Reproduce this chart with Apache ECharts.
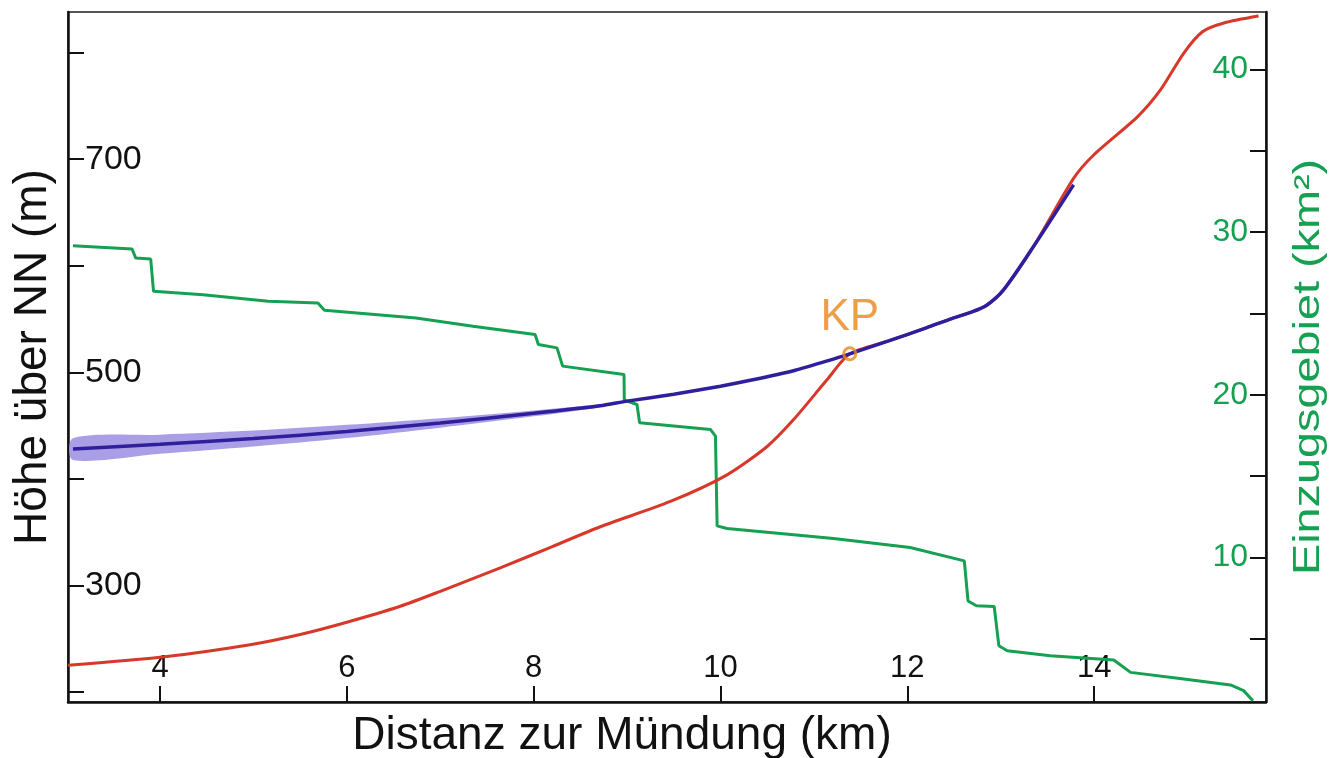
<!DOCTYPE html>
<html>
<head>
<meta charset="utf-8">
<script src="https://cdn.jsdelivr.net/npm/echarts@6/dist/echarts.min.js"></script>
<style>
html,body{margin:0;padding:0;background:#fff;}
#chart{width:1344px;height:758px;}
</style>
</head>
<body>
<div id="chart"></div>
<script>
// ---- data ----
const xTicks = [4, 6, 8, 10, 12, 14];
const leftTicks = [200, 300, 400, 500, 600, 700, 800];
const leftLabels = [300, 500, 700];
const rightTicks = [5, 10, 15, 20, 25, 30, 35, 40];
const rightLabels = [10, 20, 30, 40];

// longitudinal profile (red), km / m
const redKm = [3.0145, 4.0, 4.964, 5.5, 6.0, 6.571, 7.0, 7.642, 8.2, 8.713, 9.463, 10.07, 10.499, 10.78, 11.14, 11.384, 11.8, 12.21, 12.46, 12.7, 12.85, 13.03, 13.35, 13.78, 13.995, 14.466, 14.71, 14.96, 15.16, 15.39, 15.76];
const redM  = [225, 232.5, 244.4, 254, 265.5, 280.5, 294.5, 316.5, 336.5, 355.1, 378.8, 403.8, 430.4, 455.4, 493.0, 517.4, 529.5, 542, 550, 557, 563, 577.4, 618, 682, 704, 740, 765, 799.7, 819.7, 827.9, 834.4];

// fitted / reconstructed profile (blue), km / m
const blueKm = [3.068, 4, 5, 6, 7, 8, 8.71, 9.0, 9.5, 10.0, 10.32, 10.8, 11.18, 11.384, 11.8, 12.21, 12.46, 12.7, 12.85, 13.03, 13.35, 13.78];
const blueM  = [428, 432.5, 437.8, 444.5, 452.5, 461.5, 468.6, 473, 479.5, 487, 492.5, 502, 511.7, 517.4, 529.5, 542, 550, 557, 563, 577.4, 618, 676];

// uncertainty band around blue line (m)
const bandKm   = [3.068, 4, 5, 6, 7, 8, 8.7, 9.2];
const bandLow  = [417.8, 423.5, 430.3, 438.3, 448.0, 458.7, 467.1, 475.5];
const bandHigh = [438.2, 441.5, 445.3, 450.7, 457.0, 464.3, 470.1, 475.5];

// catchment area (green), km / km²
const greenKm = [3.068, 3.70, 3.74, 3.90, 3.93, 4.46, 5.16, 5.69, 5.76, 6.74, 7.35, 8.015, 8.05, 8.25, 8.31, 8.967, 8.97, 9.106, 9.134, 9.892, 9.946, 9.964, 10.07, 11.21, 12.03, 12.61, 12.65, 12.74, 12.93, 12.98, 13.07, 13.53, 14.21, 14.39, 14.96, 15.46, 15.60, 15.70];
const greenA  = [29.16, 28.96, 28.4, 28.34, 26.36, 26.15, 25.74, 25.64, 25.19, 24.72, 24.21, 23.70, 23.09, 22.88, 21.76, 21.25, 19.67, 19.40, 18.28, 17.87, 17.46, 11.94, 11.78, 11.17, 10.61, 9.79, 7.33, 7.03, 6.99, 4.58, 4.27, 3.96, 3.70, 2.94, 2.53, 2.17, 1.82, 1.20];

// knickpoint
const kpKm = [11.384];
const kpM = [517.4];
const kpLabel = 'KP';

const xTitle = 'Distanz zur Mündung (km)';
const leftTitle = 'Höhe über NN (m)';
const rightTitle = 'Einzugsgebiet (km²)';

// ---- chart ----
const FONT = '"Liberation Sans", Arial, sans-serif';
const GREEN = '#15a052';
const ORANGE = '#e8861a';
const zip = (a, b) => a.map((v, i) => [v, b[i]]);

const chart = echarts.init(document.getElementById('chart'), null, {renderer: 'canvas'});

const option = {
  animation: false,
  backgroundColor: '#fff',
  grid: {
    left: 68, right: 78, top: 12, bottom: 56,
    show: true, borderColor: '#555', borderWidth: 2,
    containLabel: false, outerBoundsMode: 'none'
  },
  xAxis: {
    type: 'value', min: 3.0145, max: 15.84,
    axisLine: {show: true, lineStyle: {color: '#111', width: 2.5}},
    axisTick: {show: true, inside: true, length: 16, lineStyle: {color: '#111', width: 2}, customValues: xTicks},
    axisLabel: {show: true, inside: true, margin: 18, fontSize: 31, color: '#111', fontFamily: FONT, customValues: xTicks},
    splitLine: {show: false},
    name: xTitle, nameLocation: 'middle', nameGap: 11, nameMoveOverlap: false,
    nameTextStyle: {fontSize: 46, color: '#111', fontFamily: FONT, padding: [0, 90, 0, 0], verticalAlign: 'top'}
  },
  yAxis: [{
    type: 'value', position: 'left', min: 190.6, max: 838.2,
    axisLine: {show: true, lineStyle: {color: '#111', width: 2.5}},
    axisTick: {show: true, inside: true, length: 16, lineStyle: {color: '#111', width: 2}, customValues: leftTicks},
    axisLabel: {show: true, inside: true, margin: 17, fontSize: 34, color: '#111', fontFamily: FONT, customValues: leftLabels},
    splitLine: {show: false},
    name: leftTitle, nameLocation: 'middle', nameGap: 12, nameMoveOverlap: false,
    nameTextStyle: {fontSize: 46, color: '#111', fontFamily: FONT}
  }, {
    type: 'value', position: 'right', min: 1.12, max: 43.52,
    axisLine: {show: true, lineStyle: {color: '#111', width: 2.5}},
    axisTick: {show: true, inside: true, length: 16, lineStyle: {color: '#111', width: 2}, customValues: rightTicks},
    axisLabel: {show: true, inside: true, margin: 18, fontSize: 32, color: GREEN, fontFamily: FONT, customValues: rightLabels},
    splitLine: {show: false}
  }],
  graphic: [{
    type: 'text',
    x: 1309, y: 367,
    rotation: Math.PI / 2,
    scaleX: 1.3, scaleY: 1,
    style: {
      text: rightTitle, fontSize: 36, fontFamily: FONT, fill: GREEN,
      align: 'center', verticalAlign: 'middle', textAlign: 'center', textVerticalAlign: 'middle'
    }
  }],
  series: [{
    type: 'custom',
    yAxisIndex: 0,
    z: 1,
    data: bandKm.map((k, i) => [k, bandLow[i], bandHigh[i]]),
    renderItem: function (params, api) {
      if (params.dataIndex !== 0) return null;
      const pts = [];
      for (let i = 0; i < bandKm.length; i++) pts.push(api.coord([bandKm[i], bandHigh[i]]));
      for (let i = bandKm.length - 1; i >= 0; i--) pts.push(api.coord([bandKm[i], bandLow[i]]));
      return {type: 'polygon', shape: {points: pts, smooth: 0.3}, style: {fill: '#a194e3', opacity: 0.9}};
    }
  }, {
    type: 'line', name: 'Einzugsgebiet', yAxisIndex: 1, z: 3,
    data: zip(greenKm, greenA), showSymbol: false, smooth: false,
    lineStyle: {color: GREEN, width: 3}
  }, {
    type: 'line', name: 'Profil', yAxisIndex: 0, z: 4,
    data: zip(redKm, redM), showSymbol: false, smooth: 0.25,
    lineStyle: {color: '#d8382a', width: 3}
  }, {
    type: 'line', name: 'Modell', yAxisIndex: 0, z: 5,
    data: zip(blueKm, blueM), showSymbol: false, smooth: 0.25,
    lineStyle: {color: '#2e1f9c', width: 3.5}
  }, {
    type: 'scatter', name: 'KP', yAxisIndex: 0, z: 6,
    data: zip(kpKm, kpM),
    symbol: 'circle', symbolSize: 12,
    itemStyle: {color: 'rgba(0,0,0,0)', borderColor: ORANGE, borderWidth: 3},
    label: {show: true, position: 'top', distance: 6, formatter: kpLabel, fontSize: 44, color: ORANGE, fontFamily: FONT}
  }]
};
chart.setOption(option);
</script>
</body>
</html>
